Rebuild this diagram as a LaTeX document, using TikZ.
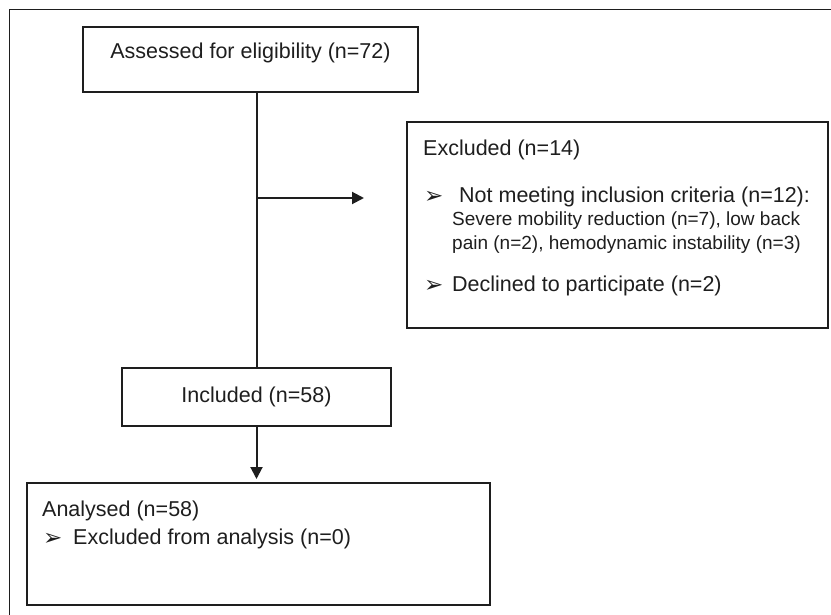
\documentclass[tikz,border=0pt]{standalone}
\usepackage{fontspec}
\setmainfont{Liberation Sans}
\newfontfamily\dingfont{DejaVu Sans}
\usepackage{tikz}
\usetikzlibrary{arrows.meta}

\definecolor{inkgray}{HTML}{1E1E1E}
\newcommand{\mainsize}{\fontsize{21.5}{25}\selectfont}
\newcommand{\smallsize}{\fontsize{19}{23}\selectfont}
\newcommand{\arrowbullet}{{\dingfont\fontsize{23}{23}\selectfont ➢}}

\begin{document}
\begin{tikzpicture}[
			x=1pt, y=-1pt,
			box/.style={
				rectangle,
				draw=inkgray,
				line width=2pt,
				inner sep=0pt
			},
			txt/.style={
				anchor=west,
				inner sep=0pt,
				text=inkgray,
				font=\mainsize
			},
			smalltxt/.style={
				txt,
				font=\smallsize
			},
			edge/.style={
				draw=inkgray,
				line width=2pt
			},
			flow/.style={
				edge,
				-{Triangle[length=12pt,width=12pt]}
			}
			]
			\useasboundingbox (0,0) rectangle (831,615);
			\draw[draw=inkgray, line width=1.6pt] (9.5,615) -- (9.5,9.5) -- (831,9.5);

			\node[box, minimum width=335, minimum height=65] (assess) at (250.5,59.5) {};
			\node[box, minimum width=421, minimum height=206] (excl) at (617.5,225) {};
			\node[box, minimum width=269, minimum height=58] (incl) at (256.5,397) {};
			\node[box, minimum width=463, minimum height=122] (anal) at (258.5,544) {};

			\node[txt, anchor=center] (assesstxt) at (250.5,53) {Assessed for eligibility (n=72)};
			\node[txt, anchor=center] (incltxt) at (256.5,397) {Included (n=58)};

			\node[txt] (exclhead) at (423,150) {Excluded (n=14)};
			\node[txt] (bulla) at (424,197) {\arrowbullet};
			\node[txt] (notmeet) at (459,197) {Not meeting inclusion criteria (n=12):};
			\node[smalltxt] (reasona) at (452,221) {Severe mobility reduction (n=7), low back};
			\node[smalltxt] (reasonb) at (452,245) {pain (n=2), hemodynamic instability (n=3)};
			\node[txt] (bullb) at (424,286) {\arrowbullet};
			\node[txt] (declined) at (452,286) {Declined to participate (n=2)};

			\node[txt] (analhead) at (42,511) {Analysed (n=58)};
			\node[txt] (bullc) at (43,539) {\arrowbullet};
			\node[txt] (analexcl) at (73,539) {Excluded from analysis (n=0)};

			\coordinate (split) at (256.5,198);
			\coordinate (exclin) at (364,198);
			\draw[edge] (incl.north |- assess.south) -- (incl.north);
			\draw[flow] (split) -- (exclin);
			\draw[flow, shorten >=3pt] (incl.south) -- (anal.north -| incl.south);
		\end{tikzpicture}
\end{document}
